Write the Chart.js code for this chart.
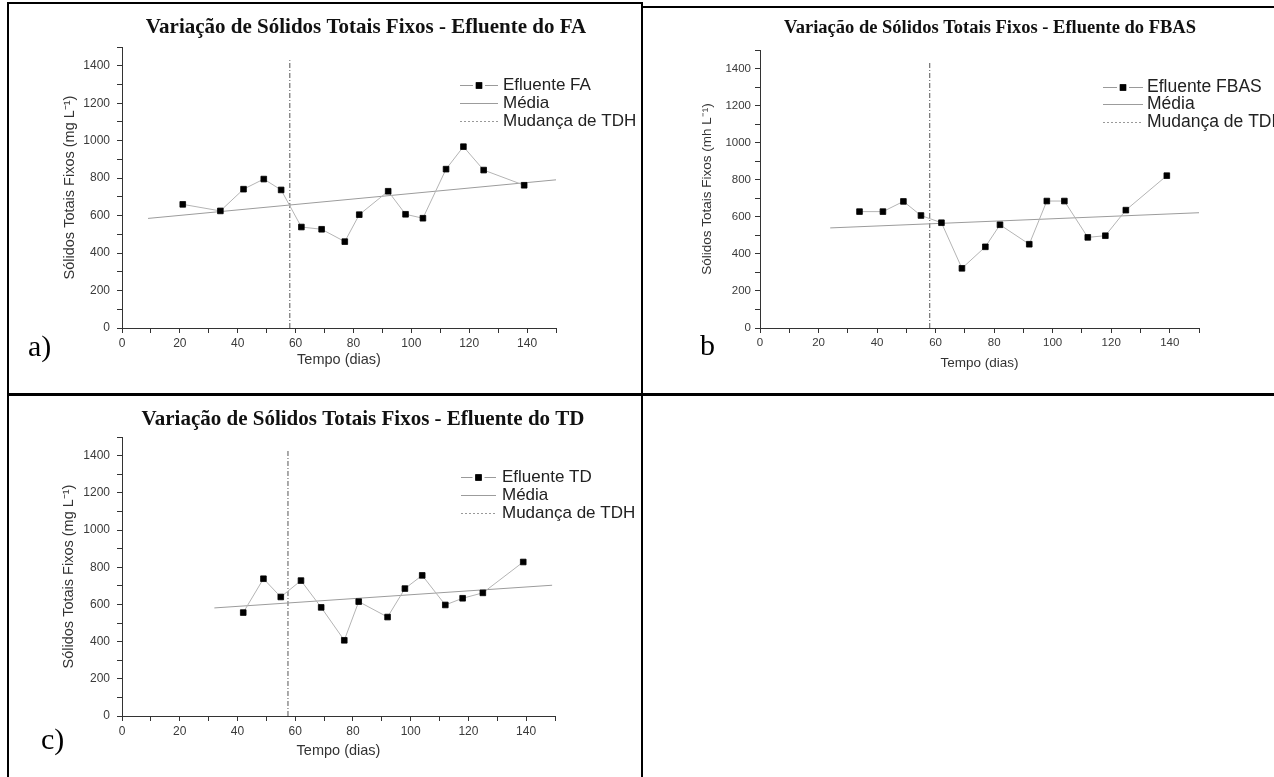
<!DOCTYPE html>
<html>
<head>
<meta charset="utf-8">
<script src="https://cdn.jsdelivr.net/npm/chart.js@4.4.1/dist/chart.umd.min.js"></script>
<style>
  html, body { margin:0; padding:0; background:#fff; width:1274px; height:777px; overflow:hidden; }
  canvas { position:absolute; }
  .ln { position:absolute; background:#000; }
  .lab { position:absolute; font-family:'Liberation Serif','Times New Roman',serif; font-size:30px; line-height:30px; color:#000; }
</style>
</head>
<body>
<canvas id="ca" width="645" height="397" style="left:0;top:0"></canvas>
<canvas id="cb" width="629" height="397" style="left:645px;top:0"></canvas>
<canvas id="cc" width="645" height="380" style="left:0;top:397px"></canvas>

<div class="ln" style="left:7px;top:2px;width:636px;height:2px"></div>
<div class="ln" style="left:642px;top:6px;width:632px;height:2px"></div>
<div class="ln" style="left:7px;top:2px;width:2px;height:775px"></div>
<div class="ln" style="left:641px;top:2px;width:2px;height:775px"></div>
<div class="ln" style="left:7px;top:393px;width:1267px;height:3px"></div>

<div class="lab" style="left:28px;top:331px">a)</div>
<div class="lab" style="left:700px;top:330px">b</div>
<div class="lab" style="left:41px;top:724px">c)</div>

<script>
// ---------- data ----------
const daysA   = [21,34,42,49,55,62,69,77,82,92,98,104,112,118,125,139];
const valuesA = [660,625,741,795,737,539,527,461,605,730,607,586,848,968,843,762];
const meanDaysA   = [9,150];
const meanValuesA = [585,791];

const daysB   = [34,42,49,55,62,69,77,82,92,98,104,112,118,125,139];
const valuesB = [628,628,683,607,568,322,438,557,452,685,685,489,498,636,822];
const meanDaysB   = [24,150];
const meanValuesB = [540,622];

const daysC   = [42,49,55,62,69,77,82,92,98,104,112,118,125,139];
const valuesC = [556,738,640,728,584,407,615,532,685,756,597,633,662,828];
const meanDaysC   = [32,149];
const meanValuesC = [581,703];

const tdhDayA = 58, tdhDayB = 58, tdhDayC = 57.5;
const tdhTop = 1430;

const xTickLabels = [0,20,40,60,80,100,120,140];
const yTickLabels = [0,200,400,600,800,1000,1200,1400];

const titles = {
  a: 'Variação de Sólidos Totais Fixos - Efluente do FA',
  b: 'Variação de Sólidos Totais Fixos - Efluente do FBAS',
  c: 'Variação de Sólidos Totais Fixos - Efluente do TD'
};
const seriesNames = { a: 'Efluente FA', b: 'Efluente FBAS', c: 'Efluente TD' };
const yTitles = { a: 'Sólidos Totais Fixos (mg L⁻¹)', b: 'Sólidos Totais Fixos (mh L⁻¹)', c: 'Sólidos Totais Fixos (mg L⁻¹)' };
const xTitle = 'Tempo (dias)';
const meanName = 'Média';
const tdhName = 'Mudança de TDH';

// ---------- chart helpers ----------
const SANS = "'Liberation Sans', Arial, sans-serif";
Chart.defaults.font.family = SANS;
Chart.defaults.color = '#333';

const pts = (xs, ys) => xs.map((x, i) => ({x, y: ys[i]}));

const deco = {
  id: 'deco',
  afterDraw(chart, args, o) {
    const ctx = chart.ctx;
    ctx.save();
    ctx.fillStyle = '#111';
    ctx.font = `bold ${o.titleSize}px 'Liberation Serif', 'Times New Roman', serif`;
    ctx.textAlign = 'center';
    ctx.textBaseline = 'middle';
    ctx.fillText(o.title, o.titleX, o.titleY);

    ctx.font = `${o.legendSize}px ${SANS}`;
    ctx.textAlign = 'left';
    chart.data.datasets.forEach((ds, i) => {
      const y = o.rows[i];
      ctx.strokeStyle = ds.legendColor || ds.borderColor;
      ctx.lineWidth = 1;
      ctx.setLineDash(ds.legendDash || ds.borderDash || []);
      const seg = (a, b) => { ctx.beginPath(); ctx.moveTo(a, y + 0.5); ctx.lineTo(b, y + 0.5); ctx.stroke(); };
      if (ds.pointRadius > 0) {
        const cx = (o.lx0 + o.lx1) / 2;
        seg(o.lx0, cx - 6);
        seg(cx + 6, o.lx1);
        ctx.setLineDash([]);
        ctx.fillStyle = ds.pointBackgroundColor;
        Chart.helpers.drawPoint(ctx, {pointStyle: 'rect', radius: ds.pointRadius + 0.5, borderWidth: 0}, cx, y + 0.5);
        ctx.fill();
      } else {
        seg(o.lx0, o.lx1);
      }
      ctx.setLineDash([]);
      ctx.fillStyle = '#222';
      ctx.fillText(ds.label, o.tx, y);
    });
    ctx.restore();
  }
};

function makeChart(id, key, days, vals, mDays, mVals, tdhDay, L) {
  const ctx = document.getElementById(id).getContext('2d');
  return new Chart(ctx, {
    type: 'line',
    data: {
      datasets: [
        { label: seriesNames[key], data: pts(days, vals), borderColor: '#b4b4b4', borderWidth: 1,
          pointStyle: 'rect', pointRadius: 4, pointBackgroundColor: '#000', pointBorderColor: '#000',
          pointBorderWidth: 0.8, tension: 0, legendColor: '#9a9a9a' },
        { label: meanName, data: pts(mDays, mVals), borderColor: '#9c9c9c', borderWidth: 1, pointRadius: 0 },
        { label: tdhName, data: pts([tdhDay, tdhDay], [0, tdhTop]), borderColor: '#555', borderWidth: 1,
          borderDash: [5, 2, 1, 2], pointRadius: 0, legendColor: '#999', legendDash: [2, 2] }
      ]
    },
    options: {
      responsive: false,
      animation: false,
      events: [],
      layout: { padding: { left: L.pl, right: L.pr, top: L.pt, bottom: L.pb } },
      plugins: {
        legend: { display: false },
        tooltip: { enabled: false },
        deco: { title: titles[key], titleX: L.tX, titleY: L.tY, titleSize: L.tS,
                legendSize: L.lS, lx0: L.lx0, lx1: L.lx1, tx: L.tx, rows: L.rows }
      },
      scales: {
        x: {
          type: 'linear', min: 0, max: 150,
          afterFit: s => { s.height = L.xh; },
          border: { display: true, color: '#333', width: 1 },
          grid: { drawOnChartArea: false, drawTicks: true, tickLength: 5, color: '#333' },
          ticks: { stepSize: 10, autoSkip: false, maxRotation: 0, padding: 3, color: '#3a3a3a',
                   font: { size: L.tick },
                   callback: v => xTickLabels.includes(v) ? String(v) : '' },
          title: { display: true, text: xTitle, color: '#333', font: { size: L.ax }, padding: { top: 4, bottom: 4 } }
        },
        y: {
          type: 'linear', min: 0, max: 1500,
          afterFit: s => { s.width = L.yw; },
          border: { display: true, color: '#333', width: 1 },
          grid: { drawOnChartArea: false, drawTicks: true, tickLength: 5, color: '#333' },
          ticks: { stepSize: 100, autoSkip: false, padding: L.yp, color: '#3a3a3a',
                   font: { size: L.tick },
                   callback: v => yTickLabels.includes(v) ? String(v) : '' },
          title: { display: true, text: yTitles[key], color: '#333', font: { size: L.ax }, padding: { top: 4, bottom: 4 } }
        }
      }
    },
    plugins: [deco]
  });
}

makeChart('ca', 'a', daysA, valuesA, meanDaysA, meanValuesA, tdhDayA,
  { pl: 57, pr: 89, pt: 47, pb: 24, xh: 45, yw: 65, yp: 7, tick: 12, ax: 14.5,
    tX: 366, tY: 28, tS: 21, lS: 17, lx0: 460, lx1: 498, tx: 503, rows: [85, 103, 121] });

makeChart('cb', 'b', daysB, valuesB, meanDaysB, meanValuesB, tdhDayB,
  { pl: 50, pr: 75, pt: 50, pb: 22, xh: 47, yw: 65, yp: 4, tick: 11.5, ax: 13.5,
    tX: 345, tY: 28, tS: 18.5, lS: 17.5, lx0: 458, lx1: 498, tx: 502, rows: [87, 104, 122] });

makeChart('cc', 'c', daysC, valuesC, meanDaysC, meanValuesC, tdhDayC,
  { pl: 56, pr: 90, pt: 40, pb: 13, xh: 48, yw: 66, yp: 7, tick: 12, ax: 14.5,
    tX: 363, tY: 23, tS: 21, lS: 17, lx0: 461, lx1: 496, tx: 502, rows: [80, 98, 116] });
</script>
</body>
</html>
